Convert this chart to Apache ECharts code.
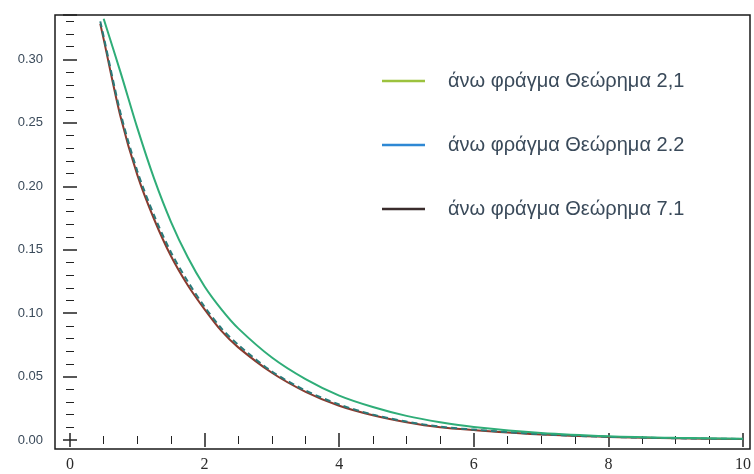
<!DOCTYPE html>
<html lang="el">

<head>
  <meta charset="UTF-8">
  <title>Άνω φράγματα</title>
  <script src="https://cdn.jsdelivr.net/npm/echarts@6/dist/echarts.min.js"></script>
</head>

<body style="margin:0;background:#fff;">
  <div id="chart" style="width: 754px; height: 474px;"></div>

  <script>
    var xValues = [0.45, 0.5, 0.75, 1, 1.25, 1.5, 1.75, 2, 2.25, 2.5, 3, 3.5, 4, 4.5, 5, 5.5, 6, 7, 8, 9, 10];

    // upper bounds per theorem
    var bound21 = [null, 0.332, 0.290, 0.246, 0.206, 0.172, 0.144, 0.121, 0.103, 0.088, 0.065, 0.048, 0.035, 0.026, 0.019, 0.014, 0.0103, 0.0056, 0.0030, 0.0017, 0.0010];
    var bound22 = [0.330, 0.318, 0.258, 0.212, 0.177, 0.148, 0.125, 0.105, 0.088, 0.075, 0.054, 0.039, 0.028, 0.020, 0.0145, 0.0105, 0.0082, 0.0045, 0.0025, 0.0014, 0.0008];
    var bound71 = [0.328, 0.316, 0.255, 0.209, 0.174, 0.145, 0.122, 0.103, 0.086, 0.073, 0.053, 0.038, 0.027, 0.0195, 0.014, 0.010, 0.0078, 0.0043, 0.0024, 0.0013, 0.0007];

    var names = ['άνω φράγμα Θεώρημα 2,1', 'άνω φράγμα Θεώρημα 2.2', 'άνω φράγμα Θεώρημα 7.1'];

    function pairs(ys) {
      return xValues.map(function (x, i) { return [x, ys[i]]; });
    }

    var myChart = echarts.init(document.getElementById('chart'));

    var tickColor = '#222';
    var labelColor = '#3a4a5a';

    myChart.setOption({
      animation: false,
      backgroundColor: '#fff',
      grid: [
        // data area: x 0..10, y 0..0.335
        { left: 70, right: 11, top: 15, bottom: 34 },
        // the frame
        { left: 55, right: 4, top: 15, bottom: 25, show: true, borderColor: '#1a1a1a', borderWidth: 1.5, backgroundColor: 'transparent' }
      ],
      xAxis: [
        {
          type: 'value', gridIndex: 0, min: 0, max: 10, interval: 2, position: 'bottom', offset: 9,
          axisLine: { show: false },
          axisTick: { show: true, inside: true, length: 7, lineStyle: { color: tickColor, width: 1.5 } },
          minorTick: { show: true, splitNumber: 4, length: 4, lineStyle: { color: tickColor } },
          splitLine: { show: false },
          axisLabel: { color: '#2a2a2a', fontSize: 16, margin: 8, fontFamily: 'Liberation Serif' }
        },
        {
          type: 'value', gridIndex: 0, min: 0, max: 10, interval: 2, position: 'top', offset: 0,
          axisLine: { show: false },
          axisTick: { show: true, inside: true, length: 7, lineStyle: { color: tickColor, width: 1.5 } },
          minorTick: { show: true, splitNumber: 4, length: 4, lineStyle: { color: tickColor } },
          splitLine: { show: false },
          axisLabel: { show: false }
        },
        { type: 'value', gridIndex: 1, show: false }
      ],
      yAxis: [
        {
          type: 'value', gridIndex: 0, min: 0, max: 0.335, interval: 0.05, position: 'left', offset: 15,
          axisLine: { show: false },
          axisTick: { show: true, inside: true, length: 7, lineStyle: { color: tickColor, width: 1.5 } },
          minorTick: { show: true, splitNumber: 5, length: 4, lineStyle: { color: tickColor } },
          splitLine: { show: false },
          axisLabel: {
            color: labelColor, fontSize: 13, margin: 12, fontFamily: 'Liberation Sans', showMaxLabel: false,
            formatter: function (v) { return v.toFixed(2); }
          }
        },
        {
          type: 'value', gridIndex: 0, min: 0, max: 0.335, interval: 0.05, position: 'right', offset: 7,
          axisLine: { show: false },
          axisTick: { show: true, inside: true, length: 7, lineStyle: { color: tickColor, width: 1.5 } },
          minorTick: { show: true, splitNumber: 5, length: 4, lineStyle: { color: tickColor } },
          splitLine: { show: false },
          axisLabel: { show: false }
        },
        { type: 'value', gridIndex: 1, show: false }
      ],
      legend: {
        orient: 'vertical',
        left: 377,
        top: 66,
        icon: 'rect',
        itemWidth: 43,
        itemHeight: 2.5,
        itemGap: 44,
        textStyle: {
          color: labelColor, fontSize: 20, fontFamily: 'Liberation Sans',
          padding: [0, 0, 0, 18]
        },
        data: [
          { name: names[0], itemStyle: { color: '#9cc23e' } },
          { name: names[1], itemStyle: { color: '#2e88d4' } },
          { name: names[2], itemStyle: { color: '#3a2c2c' } }
        ]
      },
      series: [
        {
          name: names[2], type: 'line', xAxisIndex: 0, yAxisIndex: 0, data: pairs(bound71),
          symbol: 'none', smooth: 0.3, lineStyle: { color: '#8a3a2e', width: 2 }, itemStyle: { color: '#8a3a2e' }
        },
        {
          name: names[1], type: 'line', xAxisIndex: 0, yAxisIndex: 0, data: pairs(bound22),
          symbol: 'none', smooth: 0.3, lineStyle: { color: '#2a7a7a', width: 2, type: [6, 4] }, itemStyle: { color: '#2a7a7a' }
        },
        {
          name: names[0], type: 'line', xAxisIndex: 0, yAxisIndex: 0, data: pairs(bound21),
          symbol: 'none', smooth: 0.3, lineStyle: { color: '#2fad78', width: 2 }, itemStyle: { color: '#2fad78' }
        }
      ]
    });
  </script>
</body>

</html>
